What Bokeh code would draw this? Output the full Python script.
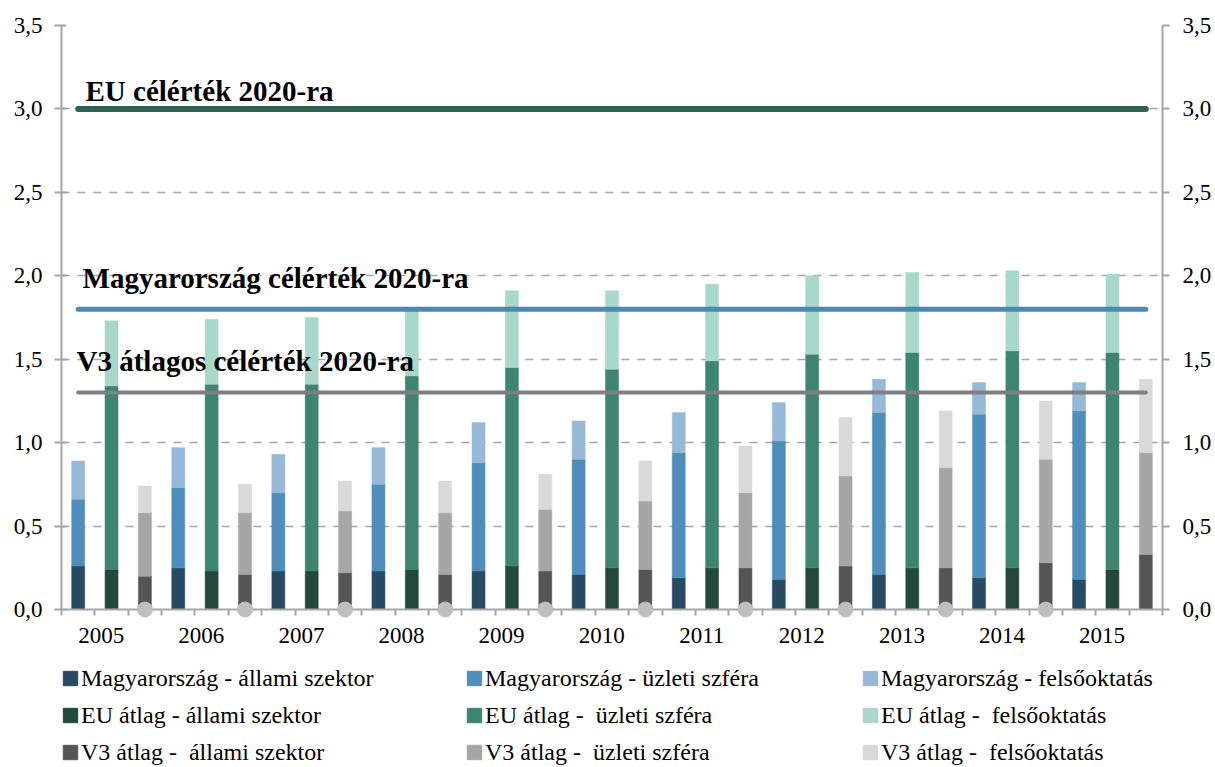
from bokeh.plotting import figure
from bokeh.layouts import column
from bokeh.models import (ColumnDataSource, Range1d, FixedTicker, LinearAxis,
                          Legend, LegendItem, Label)
from bokeh.embed import file_html
from bokeh.resources import INLINE

# ---------------- data ----------------
years = ["2005", "2006", "2007", "2008", "2009", "2010",
         "2011", "2012", "2013", "2014", "2015"]

y_tick_values = [0.0, 0.5, 1.0, 1.5, 2.0, 2.5, 3.0, 3.5]
y_tick_labels = ["0,0", "0,5", "1,0", "1,5", "2,0", "2,5", "3,0", "3,5"]

hu_state    = [0.26, 0.25, 0.23, 0.23, 0.23, 0.21, 0.19, 0.18, 0.21, 0.19, 0.18]
hu_business = [0.40, 0.48, 0.47, 0.52, 0.65, 0.69, 0.75, 0.83, 0.97, 0.98, 1.01]
hu_higher   = [0.23, 0.24, 0.23, 0.22, 0.24, 0.23, 0.24, 0.23, 0.20, 0.19, 0.17]

eu_state    = [0.24, 0.23, 0.23, 0.24, 0.26, 0.25, 0.25, 0.25, 0.25, 0.25, 0.24]
eu_business = [1.10, 1.12, 1.12, 1.16, 1.19, 1.19, 1.24, 1.28, 1.29, 1.30, 1.30]
eu_higher   = [0.39, 0.39, 0.40, 0.41, 0.46, 0.47, 0.46, 0.47, 0.48, 0.48, 0.47]

v3_state    = [0.20, 0.21, 0.22, 0.21, 0.23, 0.24, 0.25, 0.26, 0.25, 0.28, 0.33]
v3_business = [0.38, 0.37, 0.37, 0.37, 0.37, 0.41, 0.45, 0.54, 0.60, 0.62, 0.61]
v3_higher   = [0.16, 0.17, 0.18, 0.19, 0.21, 0.24, 0.28, 0.35, 0.34, 0.35, 0.44]

eu_target = 3.0
hu_target = 1.8
v3_target = 1.3

marker_values = [0.0, 0.0, 0.0, 0.0, 0.0, 0.0, 0.0, 0.0, 0.0, 0.0]

hu_labels = ["Magyarország - állami szektor", "Magyarország - üzleti szféra",
             "Magyarország - felsőoktatás"]
eu_labels = ["EU átlag - állami szektor", "EU átlag -  üzleti szféra",
             "EU átlag -  felsőoktatás"]
v3_labels = ["V3 átlag -  állami szektor", "V3 átlag -  üzleti szféra",
             "V3 átlag -  felsőoktatás"]

target_texts = ["EU célérték 2020-ra", "Magyarország célérték 2020-ra",
                "V3 átlagos célérték 2020-ra"]

# ---------------- styling ----------------
FONT = "Liberation Serif"
AXIS_GRAY = "#a6a6a6"
hu_colors = ["#264b63", "#4f8dba", "#95b9d6"]
eu_colors = ["#22493c", "#3e8571", "#a7d8c9"]
v3_colors = ["#555555", "#a6a6a6", "#d9d9d9"]

n = len(years)
slots = list(range(3 * n))

W = 1215
H_MAIN = 660
H_LEG = 107

p = figure(width=W, height=H_MAIN,
           x_range=Range1d(-0.5, 3 * n - 0.5), y_range=Range1d(0, 3.5),
           output_backend="svg", toolbar_location=None,
           min_border_left=61, min_border_right=53,
           min_border_top=25, min_border_bottom=51)
p.outline_line_color = None
p.background_fill_color = "white"
p.border_fill_color = "white"

# ---------------- bars ----------------
for g, (st, bu, hi, cols) in enumerate([
        (hu_state, hu_business, hu_higher, hu_colors),
        (eu_state, eu_business, eu_higher, eu_colors),
        (v3_state, v3_business, v3_higher, v3_colors)]):
    src = ColumnDataSource(dict(x=[3 * i + g for i in range(n)],
                                state=st, business=bu, higher=hi))
    p.vbar_stack(["state", "business", "higher"], x="x", width=0.39,
                 fill_color=cols, line_color=cols, line_width=0.5,
                 source=src)

# ---------------- target lines ----------------
for t, col, lw in [(eu_target, "#2e6353", 6), (hu_target, "#4a89b5", 5),
                   (v3_target, "#7f7f7f", 4)]:
    p.line(x=[slots[0], slots[-1]], y=[t, t], line_color=col,
           line_width=lw, line_cap="round")

# ---------------- zero markers ----------------
p.scatter(x=[3 * i + 2 for i in range(len(marker_values))], y=marker_values,
          size=15, fill_color="#bfbfbf", line_color="#bfbfbf",
          level="overlay")

# ---------------- target texts ----------------
for txt, x, y in [(target_texts[0], 0.22, 3.105),
                  (target_texts[1], 0.13, 1.984),
                  (target_texts[2], -0.05, 1.492)]:
    p.add_layout(Label(x=x, y=y, text=txt, text_font=FONT,
                       text_font_style="bold", text_font_size="29px",
                       text_color="black", text_baseline="alphabetic"))

# ---------------- axes ----------------
xa = p.xaxis[0]
label_pos = [3 * i + 0.69 for i in range(n)]
xa.ticker = FixedTicker(ticks=label_pos,
                        minor_ticks=[k - 0.5 for k in range(3 * n + 1)])
xa.major_label_overrides = {pos: yr for pos, yr in zip(label_pos, years)}
xa.major_tick_line_color = None
xa.major_tick_out = 0
xa.major_tick_in = 0
xa.minor_tick_out = 6
xa.minor_tick_in = 0
xa.minor_tick_line_color = AXIS_GRAY
xa.minor_tick_line_width = 2
xa.axis_line_color = AXIS_GRAY
xa.axis_line_width = 2
xa.major_label_text_font = FONT
xa.major_label_text_font_size = "23px"
xa.major_label_text_color = "black"
xa.major_label_standoff = 12

yticks = FixedTicker(ticks=y_tick_values, minor_ticks=[])
overrides = {v: s for v, s in zip(y_tick_values, y_tick_labels)}

ya = p.yaxis[0]
ra = LinearAxis()
p.add_layout(ra, "right")
for ax, tin, so in [(ya, 5, 12), (ra, 0, 13)]:
    ax.ticker = yticks
    ax.major_label_overrides = overrides
    ax.major_tick_out = 7
    ax.major_tick_in = tin
    ax.major_tick_line_color = AXIS_GRAY
    ax.major_tick_line_width = 2
    ax.minor_tick_line_color = None
    ax.axis_line_color = AXIS_GRAY
    ax.axis_line_width = 2
    ax.major_label_text_font = FONT
    ax.major_label_text_font_size = "23px"
    ax.major_label_text_color = "black"
    ax.major_label_standoff = so

p.xgrid.visible = False
p.ygrid.ticker = FixedTicker(ticks=y_tick_values[1:])
p.ygrid.grid_line_color = AXIS_GRAY
p.ygrid.grid_line_dash = "8 8"
p.ygrid.grid_line_width = 1.5

# ---------------- legend panel (three columns) ----------------
pl = figure(width=W, height=H_LEG, x_range=Range1d(0, 1), y_range=Range1d(0, 1),
            output_backend="svg", toolbar_location=None,
            x_axis_location=None, y_axis_location=None, min_border=0)
pl.outline_line_color = None
pl.xgrid.visible = False
pl.ygrid.visible = False

# swatch renderers for the legend (one off-range placeholder each)
swatches = []
for cols in [hu_colors, eu_colors, v3_colors]:
    row = []
    for c in cols:
        row.append(pl.vbar(x=[-5.0], top=[0.0], width=0.1,
                           fill_color=c, line_color=c))
    swatches.append(row)

col_x = [0, 404, 800]
for c in range(3):
    items = [LegendItem(label=labels[c], renderers=[swatches[g][c]])
             for g, labels in enumerate([hu_labels, eu_labels, v3_labels])]
    leg = Legend(items=items, location=(col_x[c], 0),
                 orientation="vertical", padding=0, margin=0, spacing=7,
                 glyph_width=18, glyph_height=18, label_height=30,
                 label_standoff=2, label_text_font=FONT,
                 label_text_font_size="24px", label_text_color="black",
                 border_line_color=None, background_fill_alpha=0)
    pl.add_layout(leg)

layout = column(p, pl, spacing=0)
open("out.html", "w").write(file_html(layout, INLINE))
